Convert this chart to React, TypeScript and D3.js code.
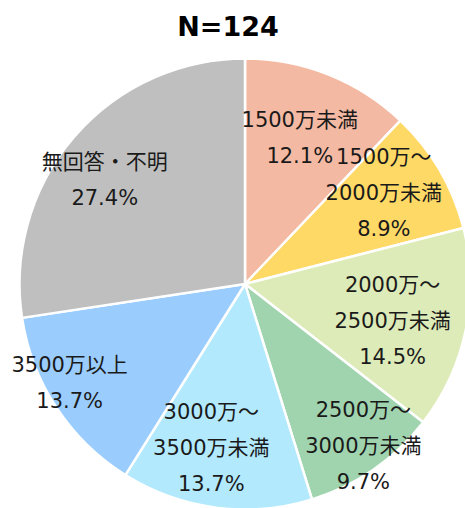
import React from "react";
import * as d3 from "d3";

const categories: string[][] = [
  ["1500万未満"],
  ["1500万～", "2000万未満"],
  ["2000万～", "2500万未満"],
  ["2500万～", "3000万未満"],
  ["3000万～", "3500万未満"],
  ["3500万以上"],
  ["無回答・不明"],
];
const percents = [12.1, 8.9, 14.5, 9.7, 13.7, 13.7, 27.4];
const colors = ["#F4B9A2", "#FFD966", "#DDEBB8", "#9FD4AF", "#B3E9FD", "#9ACDFE", "#BFBFBF"];
const title = "N=124";

// layout nudges for label blocks (px), relative to polar anchor
const labelNudge: [number, number][] = [
  [-8, 11], [-7, -5], [-18, 3], [22, 23], [-12, -4], [-34, 6], [-12, 6],
];

const W = 465, H = 508;
const cx = 245, cy = 284, R = 225.5;
const lineH = 36;
const font = "'DejaVu Sans', 'Noto Sans CJK JP', sans-serif";

export default function App() {
  const pie = d3.pie<number>().sort(null).value((d) => d).startAngle(0).endAngle(2 * Math.PI);
  const arcs = pie(percents);
  const arc = d3.arc<d3.PieArcDatum<number>>().innerRadius(0).outerRadius(R);
  const labelR = R * 0.75;
  return (
    <svg width={W} height={H} style={{ position: "absolute", left: 0, top: 0 }} fontFamily={font}>
      <text x={228} y={36} textAnchor="middle" fontSize={27} fontWeight="bold" fill="#000">{title}</text>
      <g transform={`translate(${cx},${cy})`}>
        {arcs.map((a, i) => (
          <path key={i} d={arc(a) || ""} fill={colors[i]} stroke="#fff" strokeWidth={2.5} strokeLinejoin="round" />
        ))}
        {arcs.map((a, i) => {
          const mid = (a.startAngle + a.endAngle) / 2;
          const x = labelR * Math.sin(mid) + labelNudge[i][0];
          const y = -labelR * Math.cos(mid) + labelNudge[i][1];
          const lines = [...categories[i], `${percents[i].toFixed(1)}%`];
          const n = lines.length;
          return (
            <text key={i} textAnchor="middle" fontSize={21} fill="#1a1a1a">
              {lines.map((l, j) => (
                <tspan key={j} x={x} y={y + (j - (n - 1) / 2) * lineH} dominantBaseline="central">{l}</tspan>
              ))}
            </text>
          );
        })}
      </g>
    </svg>
  );
}
